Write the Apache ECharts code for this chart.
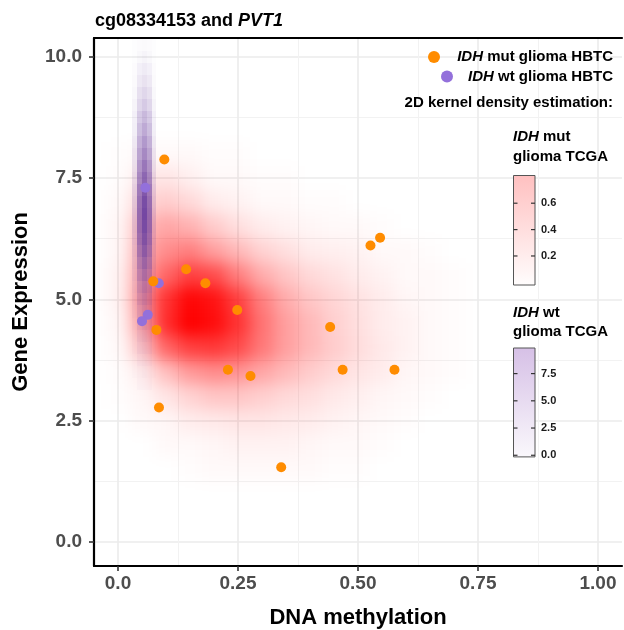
<!DOCTYPE html>
<html>
<head>
<meta charset="utf-8">
<script src="https://cdn.jsdelivr.net/npm/echarts@6/dist/echarts.min.js"></script>
<style>
  html, body { margin: 0; padding: 0; background: #fff; }
  #wrap { position: relative; width: 624px; height: 630px; }
  .layer { position: absolute; left: 0; top: 0; width: 624px; height: 630px; }
  #density { filter: blur(8px); }
</style>
</head>
<body>
<div id="wrap">
  <div id="bg" class="layer"></div>
  <div id="density" class="layer"></div>
  <div id="fg" class="layer"></div>
</div>
<script>
// ---- axis ticks -------------------------------------------------------
const X_TICKS = [0, 0.25, 0.5, 0.75, 1];
const X_TICK_LABELS = ['0.0', '0.25', '0.50', '0.75', '1.00'];
const X_MINOR = [0.125, 0.375, 0.625, 0.875];
const Y_TICKS = [0, 2.5, 5, 7.5, 10];
const Y_TICK_LABELS = ['0.0', '2.5', '5.0', '7.5', '10.0'];
const Y_MINOR = [1.25, 3.75, 6.25, 8.75];
const X_RANGE = [-0.05, 1.05];
const Y_RANGE = [-0.4945, 10.384];

// ---- HBTC samples: [DNA methylation, gene expression] -------------------
const IDH_MUT_HBTC = [
  [0.0965, 7.88], [0.142, 5.62], [0.0735, 5.37], [0.182, 5.33], [0.2485, 4.78],
  [0.080, 4.37], [0.229, 3.55], [0.276, 3.42], [0.0854, 2.77], [0.526, 6.11],
  [0.546, 6.27], [0.442, 4.43], [0.468, 3.55], [0.576, 3.55], [0.340, 1.54]
];
const IDH_WT_HBTC = [
  [0.057, 7.30], [0.085, 5.33], [0.062, 4.68], [0.050, 4.55]
];

// ---- 2D kernel density, IDH mut glioma TCGA (cell centres) ---------------
const MUT_DENSITY_X = [0, 0.05, 0.10, 0.15, 0.20, 0.25, 0.30, 0.35, 0.40, 0.45, 0.50, 0.55, 0.60, 0.65, 0.70];
const MUT_DENSITY_Y = [8.0, 7.5, 7.0, 6.5, 6.0, 5.5, 5.0, 4.5, 4.0, 3.5, 3.0, 2.5, 2.0, 1.5];
const MUT_DENSITY = [
  [0.005, 0.02, 0.02, 0.02, 0.01, 0.01, 0, 0, 0, 0, 0, 0, 0, 0, 0],
  [0.01, 0.06, 0.08, 0.05, 0.02, 0.02, 0.01, 0.01, 0, 0, 0, 0, 0, 0, 0],
  [0.02, 0.12, 0.16, 0.12, 0.06, 0.04, 0.02, 0.02, 0.01, 0.01, 0, 0, 0, 0, 0],
  [0.03, 0.20, 0.28, 0.24, 0.16, 0.10, 0.06, 0.04, 0.03, 0.02, 0.02, 0.01, 0, 0, 0],
  [0.03, 0.24, 0.36, 0.40, 0.30, 0.22, 0.14, 0.10, 0.06, 0.05, 0.04, 0.02, 0.02, 0.01, 0],
  [0.04, 0.28, 0.48, 0.60, 0.56, 0.40, 0.26, 0.18, 0.12, 0.09, 0.06, 0.04, 0.02, 0.02, 0.01],
  [0.04, 0.32, 0.64, 0.78, 0.74, 0.60, 0.40, 0.26, 0.18, 0.13, 0.09, 0.06, 0.03, 0.02, 0.01],
  [0.03, 0.28, 0.66, 0.80, 0.76, 0.64, 0.44, 0.30, 0.22, 0.15, 0.10, 0.06, 0.04, 0.02, 0.01],
  [0.02, 0.18, 0.48, 0.60, 0.62, 0.56, 0.42, 0.30, 0.22, 0.16, 0.11, 0.07, 0.04, 0.02, 0.01],
  [0.01, 0.06, 0.20, 0.32, 0.36, 0.34, 0.28, 0.22, 0.16, 0.12, 0.08, 0.06, 0.03, 0.02, 0.01],
  [0.005, 0.03, 0.08, 0.14, 0.18, 0.18, 0.15, 0.12, 0.10, 0.07, 0.05, 0.03, 0.02, 0.01, 0],
  [0, 0.02, 0.03, 0.06, 0.07, 0.08, 0.08, 0.07, 0.06, 0.04, 0.03, 0.02, 0.01, 0, 0],
  [0, 0, 0.02, 0.02, 0.03, 0.04, 0.04, 0.04, 0.03, 0.02, 0.02, 0.01, 0, 0, 0],
  [0, 0, 0, 0.01, 0.02, 0.02, 0.02, 0.02, 0.02, 0.01, 0.01, 0, 0, 0, 0]
];
const MUT_LEGEND_RANGE = [-0.02, 0.81];
const MUT_LEGEND_TICKS = [0.2, 0.4, 0.6];

// ---- 2D kernel density, IDH wt glioma TCGA (cell centres) ----------------
const WT_DENSITY_X = [0.035, 0.045, 0.055, 0.065, 0.075];
const WT_DENSITY_Y = [10.25, 10.0, 9.75, 9.5, 9.25, 9.0, 8.75, 8.5, 8.25, 8.0, 7.75, 7.5, 7.25, 7.0,
  6.75, 6.5, 6.25, 6.0, 5.75, 5.5, 5.25, 5.0, 4.75, 4.5, 4.25, 4.0, 3.75, 3.5, 3.25];
const WT_DENSITY = [
  [0.1, 0.2, 0.3, 0.2, 0.1],
  [0.1, 0.4, 0.6, 0.4, 0.1],
  [0.2, 0.8, 1.1, 0.8, 0.2],
  [0.3, 1.2, 1.6, 1.2, 0.3],
  [0.4, 1.7, 2.2, 1.7, 0.4],
  [0.6, 2.2, 2.9, 2.2, 0.6],
  [0.8, 2.9, 3.8, 2.9, 0.8],
  [0.9, 3.5, 4.6, 3.5, 0.9],
  [1.1, 4.2, 5.5, 4.2, 1.1],
  [1.3, 4.8, 6.3, 4.8, 1.3],
  [1.4, 5.5, 7.2, 5.5, 1.4],
  [1.6, 6.1, 8.0, 6.1, 1.6],
  [1.8, 6.7, 8.8, 6.7, 1.8],
  [1.9, 7.2, 9.5, 7.2, 1.9],
  [2.0, 7.4, 9.8, 7.4, 2.0],
  [1.9, 7.2, 9.5, 7.2, 1.9],
  [1.8, 6.8, 8.9, 6.8, 1.8],
  [1.6, 6.1, 8.0, 6.1, 1.6],
  [1.4, 5.2, 6.9, 5.2, 1.4],
  [1.2, 4.4, 5.8, 4.4, 1.2],
  [0.9, 3.5, 4.6, 3.5, 0.9],
  [0.7, 2.8, 3.7, 2.8, 0.7],
  [0.6, 2.1, 2.8, 2.1, 0.6],
  [0.4, 1.5, 2.0, 1.5, 0.4],
  [0.3, 1.1, 1.4, 1.1, 0.3],
  [0.2, 0.8, 1.0, 0.8, 0.2],
  [0.1, 0.5, 0.6, 0.5, 0.1],
  [0.1, 0.3, 0.4, 0.3, 0.1],
  [0.0, 0.2, 0.2, 0.2, 0.0]
];
const WT_LEGEND_RANGE = [-0.15, 9.85];
const WT_LEGEND_TICKS = [0, 2.5, 5, 7.5];

// ---- shared layout ----------------------------------------------------
const FONT = '"Liberation Sans", Arial, Helvetica, sans-serif';
const GRID = { left: 94, right: 2, top: 38, bottom: 64, containLabel: false, outerBoundsMode: 'none' };
const MUT_COLOR = '#FF8C00';
const WT_COLOR = '#9370DB';

function toCells(xs, ys, table) {
  const out = [];
  ys.forEach((y, r) => xs.forEach((x, c) => {
    if (table[r][c] > 0) out.push([x, y, table[r][c]]);
  }));
  return out;
}

// one density cell: a rectangle centred on (x, y), opacity from its value;
// edges snapped to whole pixels so neighbouring cells meet without seams
function cellRenderer(stepX, stepY, rgb, maxValue, maxAlpha) {
  return function (params, api) {
    const x = api.value(0), y = api.value(1), v = api.value(2);
    const a = api.coord([x - stepX / 2, y + stepY / 2]).map(Math.round);
    const b = api.coord([x + stepX / 2, y - stepY / 2]).map(Math.round);
    const alpha = Math.min(1, v / maxValue) * maxAlpha;
    return {
      type: 'rect',
      shape: { x: a[0], y: a[1], width: b[0] - a[0], height: b[1] - a[1] },
      style: { fill: 'rgba(' + rgb + ',' + alpha.toFixed(3) + ')' }
    };
  };
}

function hiddenAxis(range, ticks, gridColor, gridWidth) {
  return {
    type: 'value', min: range[0], max: range[1],
    axisLine: { show: false },
    axisTick: { show: false, customValues: ticks },
    axisLabel: { show: false, customValues: ticks },
    splitLine: { show: gridColor != null, lineStyle: { color: gridColor, width: gridWidth } }
  };
}

// ---- layer 1: panel background and grid lines --------------------------
const bg = echarts.init(document.getElementById('bg'), null, { renderer: 'canvas' });
bg.setOption({
  animation: false,
  backgroundColor: '#fff',
  grid: GRID,
  xAxis: [
    hiddenAxis(X_RANGE, X_TICKS, '#EBEBEB', 1.6),
    hiddenAxis(X_RANGE, X_MINOR, '#F2F2F2', 1)
  ],
  yAxis: [
    hiddenAxis(Y_RANGE, Y_TICKS, '#EBEBEB', 1.6),
    hiddenAxis(Y_RANGE, Y_MINOR, '#F2F2F2', 1)
  ],
  series: []
});

// ---- layer 2: IDH mut TCGA density (smoothed) ---------------------------
const dens = echarts.init(document.getElementById('density'), null, { renderer: 'canvas' });
dens.setOption({
  animation: false,
  backgroundColor: 'transparent',
  grid: GRID,
  xAxis: hiddenAxis(X_RANGE, X_TICKS, null, 0),
  yAxis: hiddenAxis(Y_RANGE, Y_TICKS, null, 0),
  series: [{
    type: 'custom',
    silent: true,
    renderItem: cellRenderer(0.05, 0.5, '255,0,0', 0.80, 1),
    data: toCells(MUT_DENSITY_X, MUT_DENSITY_Y, MUT_DENSITY)
  }]
});

// ---- layer 3: axes, IDH wt density, points, legend ----------------------
const TICK_LABEL = { color: '#4D4D4D', fontSize: 19, fontWeight: 'bold', fontFamily: FONT };
const AXIS_TITLE = { color: '#000', fontSize: 22, fontWeight: 'bold', fontFamily: FONT };
const BORDER = { show: true, onZero: false, lineStyle: { color: '#000', width: 2.2 } };
const TICK = { show: true, length: 5, lineStyle: { color: '#333', width: 1.6 } };

function legendText(x, y, text, size, align) {
  return {
    type: 'text', silent: true,
    style: {
      x: x, y: y, text: text, align: align || 'left', verticalAlign: 'middle',
      fill: '#000', fontSize: size, fontWeight: 'bold', fontFamily: FONT,
      rich: { it: { fontStyle: 'italic', fontWeight: 'bold', fontSize: size, fontFamily: FONT, fill: '#000' } }
    }
  };
}

function colorBar(x, top, w, h, range, ticks, topColor, bottomColor, labelFmt) {
  const els = [{
    type: 'rect', silent: true,
    shape: { x: x, y: top, width: w, height: h },
    style: {
      fill: new echarts.graphic.LinearGradient(0, 0, 0, 1, [
        { offset: 0, color: topColor }, { offset: 1, color: bottomColor }
      ]),
      stroke: '#555', lineWidth: 1
    }
  }];
  ticks.forEach(v => {
    const y = top + h - (v - range[0]) / (range[1] - range[0]) * h;
    els.push({ type: 'line', silent: true, shape: { x1: x, y1: y, x2: x + 4, y2: y }, style: { stroke: '#333', lineWidth: 1.2 } });
    els.push({ type: 'line', silent: true, shape: { x1: x + w - 4, y1: y, x2: x + w, y2: y }, style: { stroke: '#333', lineWidth: 1.2 } });
    els.push({
      type: 'text', silent: true,
      style: { x: x + w + 6, y: y, text: labelFmt(v), verticalAlign: 'middle', fill: '#1a1a1a',
        fontSize: 11, fontWeight: 'bold', fontFamily: FONT }
    });
  });
  return els;
}

const fg = echarts.init(document.getElementById('fg'), null, { renderer: 'canvas' });
fg.setOption({
  animation: false,
  backgroundColor: 'transparent',
  grid: GRID,
  xAxis: [{
    type: 'value', min: X_RANGE[0], max: X_RANGE[1], position: 'bottom',
    axisLine: BORDER,
    axisTick: Object.assign({ customValues: X_TICKS }, TICK),
    axisLabel: Object.assign({ customValues: X_TICKS, margin: 8,
      formatter: v => X_TICK_LABELS[X_TICKS.indexOf(v)] }, TICK_LABEL),
    splitLine: { show: false },
    name: 'DNA methylation', nameLocation: 'middle', nameGap: 41, nameTextStyle: AXIS_TITLE
  }, {
    type: 'value', min: X_RANGE[0], max: X_RANGE[1], position: 'top',
    axisLine: BORDER, axisTick: { show: false }, axisLabel: { show: false }, splitLine: { show: false }
  }],
  yAxis: [{
    type: 'value', min: Y_RANGE[0], max: Y_RANGE[1], position: 'left',
    axisLine: BORDER,
    axisTick: Object.assign({ customValues: Y_TICKS }, TICK),
    axisLabel: Object.assign({ customValues: Y_TICKS, margin: 12,
      formatter: v => Y_TICK_LABELS[Y_TICKS.indexOf(v)] }, TICK_LABEL),
    splitLine: { show: false },
    name: 'Gene Expression', nameLocation: 'middle', nameGap: 62, nameTextStyle: AXIS_TITLE
  }],
  series: [{
    type: 'custom',
    silent: true,
    renderItem: cellRenderer(0.01, 0.25, '108,64,160', 9.85, 0.95),
    data: toCells(WT_DENSITY_X, WT_DENSITY_Y, WT_DENSITY),
    z: 1
  }, {
    name: 'IDH wt glioma HBTC',
    type: 'scatter', symbol: 'circle', symbolSize: 10, silent: true,
    itemStyle: { color: WT_COLOR, opacity: 1 },
    data: IDH_WT_HBTC, z: 2
  }, {
    name: 'IDH mut glioma HBTC',
    type: 'scatter', symbol: 'circle', symbolSize: 10, silent: true,
    itemStyle: { color: MUT_COLOR, opacity: 1 },
    data: IDH_MUT_HBTC, z: 3
  }],
  graphic: [
    {
      type: 'text', silent: true,
      style: {
        x: 95, y: 21, text: 'cg08334153 and {it|PVT1}', verticalAlign: 'middle',
        fill: '#000', fontSize: 18, fontWeight: 'bold', fontFamily: FONT,
        rich: { it: { fontStyle: 'italic', fontWeight: 'bold', fontSize: 18, fontFamily: FONT, fill: '#000' } }
      }
    },
    { type: 'circle', silent: true, shape: { cx: 434, cy: 57, r: 6 }, style: { fill: MUT_COLOR } },
    legendText(613, 57, '{it|IDH} mut glioma HBTC', 15, 'right'),
    { type: 'circle', silent: true, shape: { cx: 447, cy: 76.5, r: 6 }, style: { fill: WT_COLOR } },
    legendText(613, 76.5, '{it|IDH} wt glioma HBTC', 15, 'right'),
    legendText(613, 103, '2D kernel density estimation:', 15, 'right'),
    legendText(513, 137, '{it|IDH} mut', 15),
    legendText(513, 157, 'glioma TCGA', 15),
    ...colorBar(513.5, 175.5, 21.5, 109.5, MUT_LEGEND_RANGE, MUT_LEGEND_TICKS,
      'rgb(255,192,192)', 'rgb(255,253,253)', v => v.toFixed(1)),
    legendText(513, 313, '{it|IDH} wt', 15),
    legendText(513, 332, 'glioma TCGA', 15),
    ...colorBar(513.5, 348, 21.5, 108.9, WT_LEGEND_RANGE, WT_LEGEND_TICKS,
      'rgb(214,192,230)', 'rgb(250,248,252)', v => v.toFixed(1))
  ]
});
</script>
</body>
</html>
